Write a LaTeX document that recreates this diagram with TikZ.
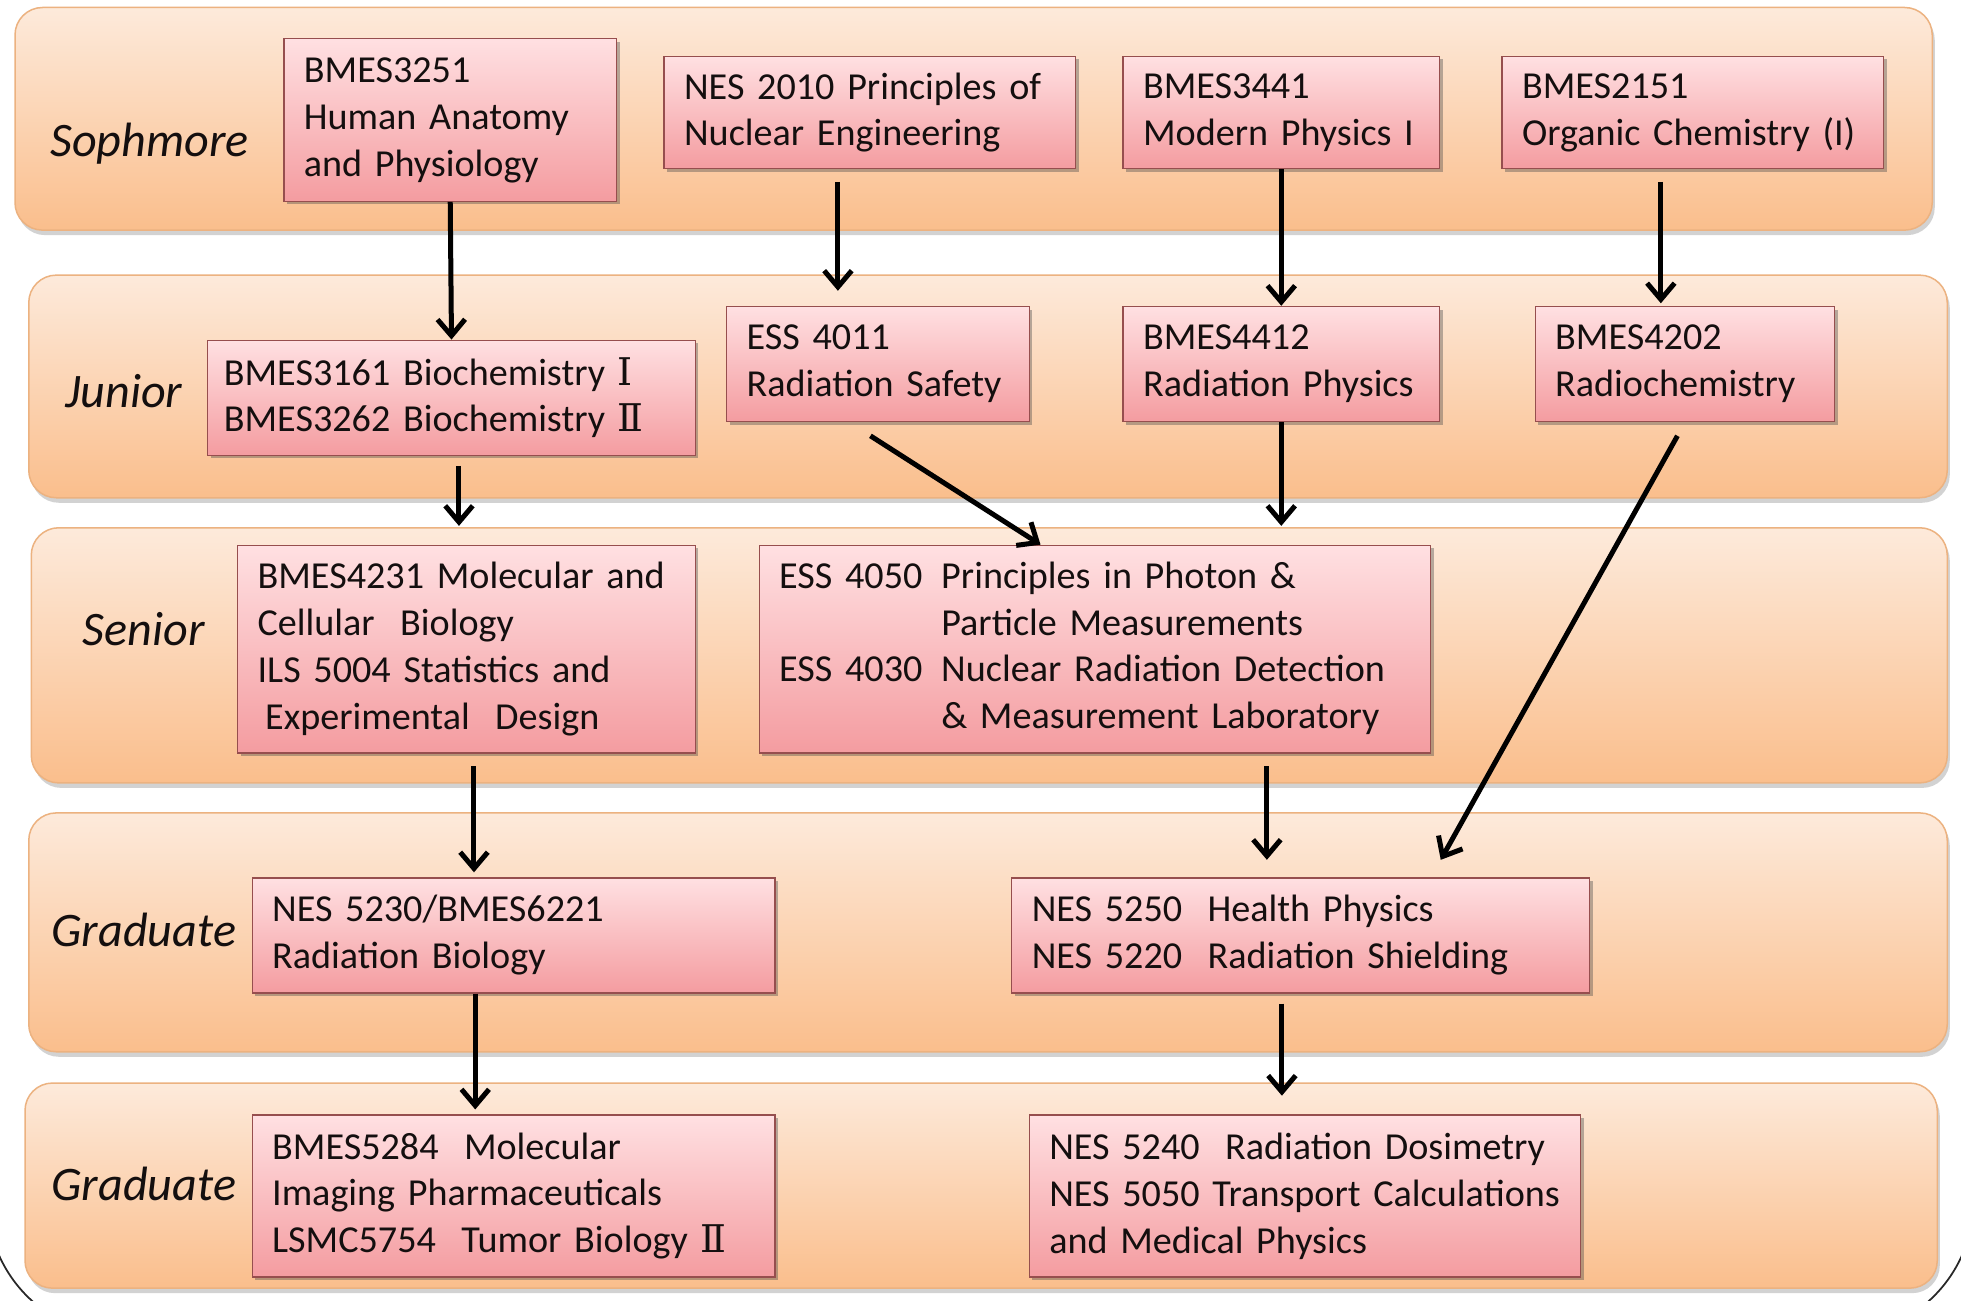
\documentclass[tikz,border=0pt]{standalone}
\usepackage{fontspec}
\setmainfont{Carlito}
\newfontfamily\numfont{DejaVu Serif}
\usetikzlibrary{arrows.meta,shadows}
\definecolor{bandtop}{RGB}{253,234,219}
\definecolor{bandbot}{RGB}{250,190,140}
\definecolor{bandedge}{RGB}{236,178,128}
\definecolor{boxtop}{RGB}{255,224,226}
\definecolor{boxbot}{RGB}{244,156,160}
\definecolor{boxedge}{RGB}{150,78,78}
\definecolor{txt}{RGB}{20,15,15}
\definecolor{framecol}{RGB}{40,40,40}
\newcommand{\boxfont}{\fontsize{30.5}{37.5}\selectfont}
\newcommand{\lblfont}{\fontsize{38.5}{46}\selectfont\itshape}
\newcommand{\rI}{{\numfont Ⅰ}}
\newcommand{\rII}{{\numfont Ⅱ}}
\tikzset{
  band/.style={draw=bandedge, line width=1.2pt, rounded corners=22pt,
    top color=bandtop, bottom color=bandbot,
    drop shadow={shadow xshift=2pt, shadow yshift=-4pt, opacity=0.25, fill=black!70}},
  cbox/.style={draw=boxedge, line width=1pt, top color=boxtop, bottom color=boxbot,
    inner xsep=16pt, inner ysep=0pt, align=left, font=\boxfont, text=txt,
    drop shadow={shadow xshift=2.5pt, shadow yshift=-2.5pt, opacity=0.4, fill=black!70}},
  lvl/.style={anchor=base west, font=\lblfont, text=txt, inner sep=0pt},
  arr/.style={line width=4pt, draw=black, -{Straight Barb[length=13pt,width=22pt]}}
}
\begin{document}
\begin{tikzpicture}[x=1pt,y=-1pt]
\useasboundingbox (0,0) rectangle (1568,1040);
\fill[white] (0,0) rectangle (1568,1040);
% outer frame (only bottom corners visible)
\draw[framecol, line width=1.4pt, rounded corners=108pt] (-10,-200) rectangle (1578,1068);
% bands
\path[band] (12,6) rectangle (1545,184);
\path[band] (23,220) rectangle (1557,398);
\path[band] (25,422) rectangle (1557,626);
\path[band] (23,650) rectangle (1557,841);
\path[band] (20,866) rectangle (1549,1030);
% level labels
\node[lvl] (l1) at (40,125) {Sophmore};
\node[lvl] (l2) at (52,326) {Junior};
\node[lvl] (l3) at (66,516) {Senior};
\node[lvl] (l4) at (41,757) {Graduate};
\node[lvl] (l5) at (41,960) {Graduate};
% sophomore
\node[cbox, minimum width=266pt, minimum height=130pt, text width=234pt] (b1) at (360,96)
  {BMES3251\\Human Anatomy\\and Physiology};
\node[cbox, minimum width=329pt, minimum height=90pt, text width=297pt] (b2) at (695.5,90)
  {NES 2010 Principles of\\Nuclear Engineering};
\node[cbox, minimum width=253pt, minimum height=90pt, text width=221pt] (b3) at (1024.5,90)
  {BMES3441\\Modern Physics I};
\node[cbox, minimum width=305pt, minimum height=90pt, text width=273pt] (b4) at (1353.5,90)
  {BMES2151\\Organic Chemistry (I)};
% junior
\node[cbox, inner xsep=13pt, minimum width=390pt, minimum height=92pt, text width=364pt] (c1) at (361,318)
  {BMES3161 Biochemistry \rI\\BMES3262 Biochemistry \rII};
\node[cbox, minimum width=242pt, minimum height=92pt, text width=210pt] (c2) at (702,291)
  {ESS 4011\\Radiation Safety};
\node[cbox, minimum width=253pt, minimum height=92pt, text width=221pt] (c3) at (1024.5,291)
  {BMES4412\\Radiation Physics};
\node[cbox, minimum width=239.5pt, minimum height=92pt, text width=207.5pt] (c4) at (1347.25,291)
  {BMES4202\\Radiochemistry};
% senior
\node[cbox, minimum width=366pt, minimum height=166pt, text width=334pt] (d1) at (373,519)
  {BMES4231 Molecular and\\Cellular~ Biology\\ILS 5004 Statistics and\\\hspace*{6pt}Experimental~ Design};
\node[cbox, minimum width=537pt, minimum height=166pt, text width=505pt] (d2) at (875.5,519)
  {\begin{tabular}{@{}l@{\hspace{15pt}}l@{}}ESS 4050 & Principles in Photon \&\\
   & Particle Measurements\\
   ESS 4030 & Nuclear Radiation Detection\\
   & \& Measurement Laboratory\end{tabular}};
% graduate 1
\node[cbox, minimum width=418pt, minimum height=92pt, text width=386pt] (e1) at (410.6,748)
  {NES 5230/BMES6221\\Radiation Biology};
\node[cbox, minimum width=462pt, minimum height=92pt, text width=430pt] (e2) at (1040,748)
  {NES 5250~ Health Physics\\NES 5220~ Radiation Shielding};
% graduate 2
\node[cbox, minimum width=418pt, minimum height=129.4pt, text width=386pt] (f1) at (410.6,956.3)
  {BMES5284~ Molecular\\Imaging Pharmaceuticals\\LSMC5754~ Tumor Biology \rII};
\node[cbox, minimum width=441pt, minimum height=129.4pt, text width=409pt] (f2) at (1043.5,956.3)
  {NES 5240~ Radiation Dosimetry\\NES 5050 Transport Calculations\\and Medical Physics};
% arrows
\draw[arr] (b1.south) -- (c1.north);
\draw[arr, shorten >=12pt] ([xshift=-25.5pt,yshift=-10pt]b2.south) -- ([xshift=-25.5pt]b2.south |- c2.north);
\draw[arr] (b3.south) -- (c3.north);
\draw[arr, shorten >=2pt] ([xshift=-25.5pt,yshift=-10pt]b4.south) -- ([xshift=-25.5pt]b4.south |- c4.north);
\draw[arr, shorten <=8pt, shorten >=15pt] ([xshift=6pt]c1.south) -- ([xshift=6pt]c1.south |- d1.north);
\draw[arr] ([xshift=-6pt,yshift=-11pt]c2.south) -- ([xshift=-43.5pt]d2.north);
\draw[arr, shorten >=15pt] (c3.south) -- (c3.south |- d2.north);
\draw[arr] ([xshift=-6pt,yshift=-11pt]c4.south) -- ([xshift=112pt,yshift=14pt]e2.north);
\draw[arr, shorten <=10pt, shorten >=4pt] ([xshift=6pt]d1.south) -- ([xshift=6pt]d1.south |- e1.north);
\draw[arr, shorten <=10pt, shorten >=14pt] ([xshift=137.5pt]d2.south) -- ([xshift=137.5pt]d2.south |- e2.north);
\draw[arr, shorten >=4pt] ([xshift=-30.6pt]e1.south) -- ([xshift=-30.6pt]e1.south |- f1.north);
\draw[arr, shorten <=8pt, shorten >=15pt] ([xshift=-15pt]e2.south) -- ([xshift=-15pt]e2.south |- f2.north);
\end{tikzpicture}
\end{document}
